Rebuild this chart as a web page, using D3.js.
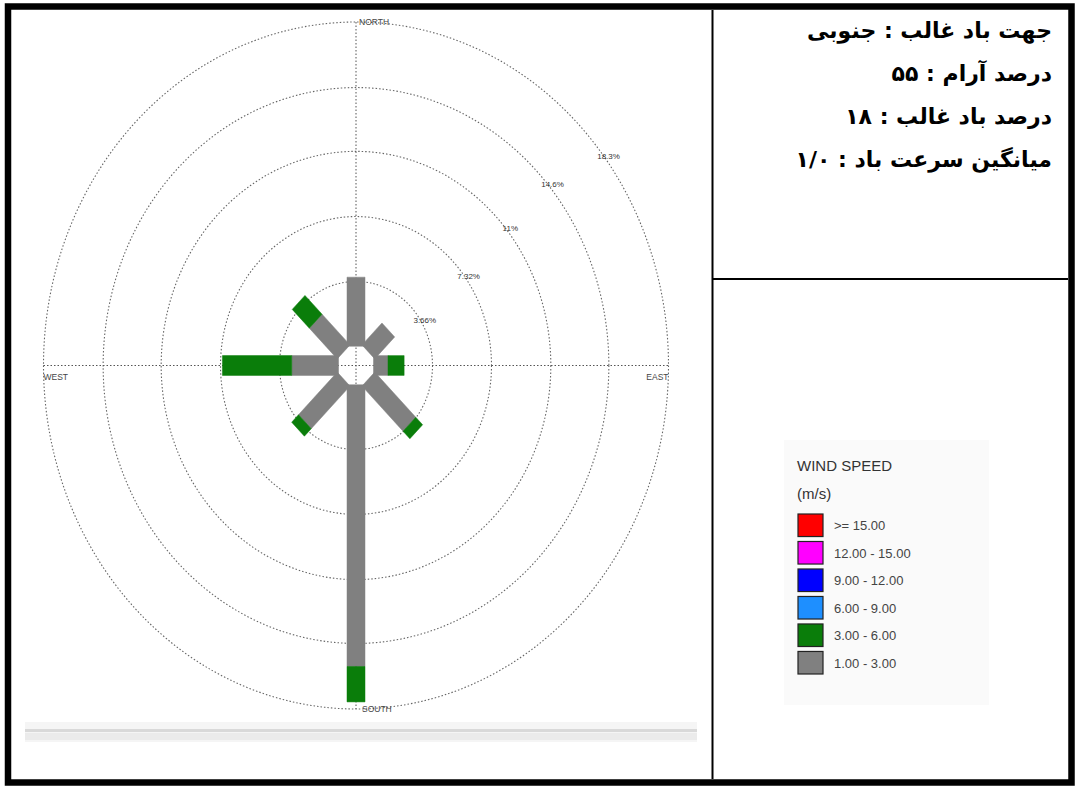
<!DOCTYPE html>
<html>
<head>
<meta charset="utf-8">
<script src="https://d3js.org/d3.v7.min.js"></script>
<style>
  body { margin: 0; background: #fff; }
  svg { display: block; }
</style>
</head>
<body>
<div id="chart"></div>
<script>
// wind rose values (% of time), by direction and speed class
var directions = ['N', 'NE', 'E', 'SE', 'S', 'SW', 'W', 'NW'];
var angles = [0, 45, 90, 135, 180, 225, 270, 315];
var speed1to3 = [3.9, 1.75, 0.9, 3.6, 15.9, 3.4, 2.9, 2.45];
var speed3to6 = [0, 0, 1.0, 0.6, 2.0, 0.6, 4.3, 1.5];
var ringValues = [3.66, 7.32, 11, 14.6, 18.3];
var ringLabels = ['3.66%', '7.32%', '11%', '14.6%', '18.3%'];
var ringLabelAngles = [31, 36, 39, 40, 37];

// legend
var legendLabels = ['>= 15.00', '12.00 - 15.00', '9.00 - 12.00', '6.00 - 9.00', '3.00 - 6.00', '1.00 - 3.00'];
var legendColors = ['#ff0000', '#ff00ff', '#0000ff', '#1e8fff', '#0a7d0a', '#808080'];

// summary text (persian)
var infoLines = [
  'جهت باد غالب : جنوبی',
  'درصد آرام : ۵۵',
  'درصد باد غالب : ۱۸',
  'میانگین سرعت باد : ۱/۰'
];

var width = 1078,
    height = 787;

var svg = d3.select('#chart').append('svg')
  .attr('width', width)
  .attr('height', height);

// ---- frame ----
svg.append('rect')
  .attr('x', 8).attr('y', 6.5)
  .attr('width', 1063.5).attr('height', 776)
  .attr('fill', 'none')
  .attr('stroke', '#000')
  .attr('stroke-width', 6.5);

svg.append('line')
  .attr('x1', 712.5).attr('x2', 712.5)
  .attr('y1', 10).attr('y2', 779)
  .attr('stroke', '#000').attr('stroke-width', 2);

svg.append('line')
  .attr('x1', 712).attr('x2', 1068)
  .attr('y1', 279).attr('y2', 279)
  .attr('stroke', '#000').attr('stroke-width', 2);

// ---- info text ----
svg.selectAll('text.info')
  .data(infoLines)
  .enter().append('text')
  .attr('class', 'info')
  .attr('x', 1052)
  .attr('y', function(d, i){ return 38 + i * 43; })
  .attr('direction', 'rtl')
  .attr('text-anchor', 'start')
  .style('font-family', '"DejaVu Sans", sans-serif')
  .style('font-weight', 'bold')
  .style('font-size', '22px')
  .text(function(d){ return d; });

// ---- wind rose ----
var cx = 356, cy = 365.5;
var rx = 312.5, ry = 343.5;   // picture is stretched vertically

var rScale = d3.scaleLinear().domain([0, 18.3]).range([0.056, 1]);
var xS = d3.scaleLinear().domain([-1, 1]).range([cx - rx, cx + rx]);
var yS = d3.scaleLinear().domain([-1, 1]).range([cy - ry, cy + ry]);

var rose = svg.append('g');

// bottom scroll strip
rose.append('rect')
  .attr('x', 25).attr('y', 722).attr('width', 672).attr('height', 20)
  .attr('fill', '#f5f5f5');
rose.append('rect')
  .attr('x', 25).attr('y', 729).attr('width', 672).attr('height', 3)
  .attr('fill', '#d9d9d9');
rose.append('rect')
  .attr('x', 25).attr('y', 733).attr('width', 672).attr('height', 7)
  .attr('fill', '#ebebeb');

rose.selectAll('ellipse.ring')
  .data(ringValues)
  .enter().append('ellipse')
  .attr('class', 'ring')
  .attr('cx', cx).attr('cy', cy)
  .attr('rx', function(d){ return xS(rScale(d)) - cx; })
  .attr('ry', function(d){ return yS(rScale(d)) - cy; })
  .attr('fill', 'none')
  .attr('stroke', '#666')
  .attr('stroke-width', 1.1)
  .attr('stroke-dasharray', '1.5,2');

// axes
rose.append('line')
  .attr('x1', xS(-1)).attr('x2', xS(1))
  .attr('y1', cy).attr('y2', cy)
  .attr('stroke', '#555').attr('stroke-dasharray', '1.5,2');
rose.append('line')
  .attr('x1', cx).attr('x2', cx)
  .attr('y1', yS(-1)).attr('y2', yS(1))
  .attr('stroke', '#555').attr('stroke-dasharray', '1.5,2');

// bars
var halfW = 9 / rx;
function barPoints(a, r1, r2) {
  var t = a * Math.PI / 180;
  var ux = Math.sin(t), uy = -Math.cos(t);
  var px = Math.cos(t), py = Math.sin(t);
  var pts = [
    [ux * r1 + px * halfW, uy * r1 + py * halfW],
    [ux * r2 + px * halfW, uy * r2 + py * halfW],
    [ux * r2 - px * halfW, uy * r2 - py * halfW],
    [ux * r1 - px * halfW, uy * r1 - py * halfW]
  ];
  return pts.map(function(p){ return xS(p[0]) + ',' + yS(p[1]); }).join(' ');
}

var segs = [];
directions.forEach(function(d, i){
  var v1 = speed1to3[i], v2 = speed3to6[i];
  segs.push({a: angles[i], r1: rScale(0), r2: rScale(v1), c: '#808080'});
  if (v2 > 0) segs.push({a: angles[i], r1: rScale(v1), r2: rScale(v1 + v2), c: '#0a7d0a'});
});

rose.selectAll('polygon.seg')
  .data(segs)
  .enter().append('polygon')
  .attr('class', 'seg')
  .attr('points', function(d){ return barPoints(d.a, d.r1, d.r2); })
  .attr('fill', function(d){ return d.c; })
  .attr('stroke', function(d){ return d.c; })
  .attr('stroke-width', 0.5);

// ring labels
rose.selectAll('text.ringlab')
  .data(ringValues)
  .enter().append('text')
  .attr('class', 'ringlab')
  .attr('x', function(d, i){
    var t = ringLabelAngles[i] * Math.PI / 180;
    return xS((rScale(d) + 0.012) * Math.cos(t));
  })
  .attr('y', function(d, i){
    var t = ringLabelAngles[i] * Math.PI / 180;
    return yS(-(rScale(d) + 0.012) * Math.sin(t)) + 3;
  })
  .attr('text-anchor', 'middle')
  .style('font-family', '"Liberation Sans", Arial, sans-serif')
  .style('font-size', '8px')
  .style('fill', '#333')
  .text(function(d, i){ return ringLabels[i]; });

// compass labels
var compass = [
  {t: 'NORTH', x: cx + 3, y: yS(-1) + 3, anchor: 'start'},
  {t: 'SOUTH', x: cx + 6, y: yS(1) + 3, anchor: 'start'},
  {t: 'WEST', x: xS(-1), y: cy + 14, anchor: 'start'},
  {t: 'EAST', x: xS(1), y: cy + 14, anchor: 'end'}
];
rose.selectAll('text.compass')
  .data(compass)
  .enter().append('text')
  .attr('class', 'compass')
  .attr('x', function(d){ return d.x; })
  .attr('y', function(d){ return d.y; })
  .attr('text-anchor', function(d){ return d.anchor; })
  .style('font-family', '"Liberation Sans", Arial, sans-serif')
  .style('font-size', '8.5px')
  .style('fill', '#444')
  .text(function(d){ return d.t; });

// ---- legend ----
var legend = svg.append('g');
legend.append('rect')
  .attr('x', 784).attr('y', 440).attr('width', 205).attr('height', 265)
  .attr('fill', '#fafafa');

legend.append('text')
  .attr('x', 797).attr('y', 471)
  .style('font-family', '"Liberation Sans", Arial, sans-serif')
  .style('font-size', '15px')
  .style('fill', '#333')
  .text('WIND SPEED');
legend.append('text')
  .attr('x', 797).attr('y', 499)
  .style('font-family', '"Liberation Sans", Arial, sans-serif')
  .style('font-size', '15px')
  .style('fill', '#333')
  .text('(m/s)');

var ly = d3.scaleBand().domain(legendLabels).range([514, 674]).paddingInner(0.18);

legend.selectAll('rect.sw')
  .data(legendLabels)
  .enter().append('rect')
  .attr('class', 'sw')
  .attr('x', 798).attr('y', function(d){ return ly(d); })
  .attr('width', 25).attr('height', ly.bandwidth())
  .attr('fill', function(d, i){ return legendColors[i]; })
  .attr('stroke', '#222').attr('stroke-width', 1.2);

legend.selectAll('text.lab')
  .data(legendLabels)
  .enter().append('text')
  .attr('class', 'lab')
  .attr('x', 834)
  .attr('y', function(d){ return ly(d) + ly.bandwidth() / 2 + 5; })
  .style('font-family', '"Liberation Sans", Arial, sans-serif')
  .style('font-size', '13px')
  .style('fill', '#444')
  .text(function(d){ return d; });
</script>
</body>
</html>
